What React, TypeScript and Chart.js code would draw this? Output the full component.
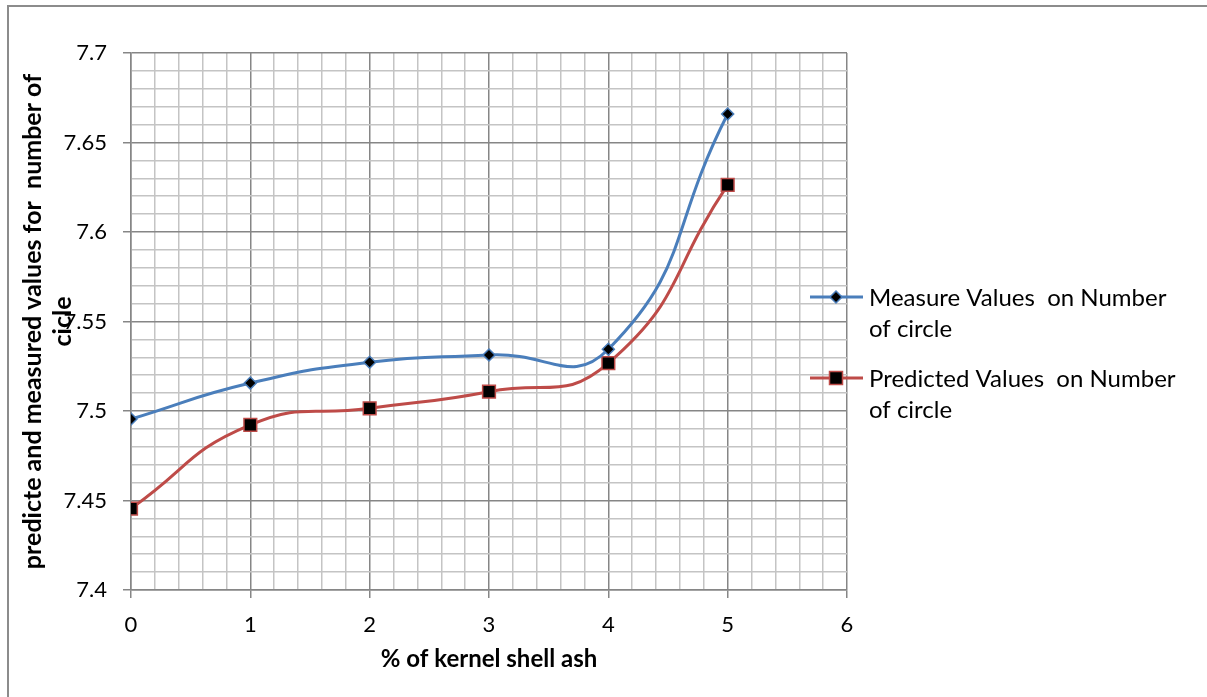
import React, { useEffect, useRef } from 'react';
import { Chart, registerables } from 'chart.js';

Chart.register(...registerables);

const xValues = [0, 1, 2, 3, 4, 5];
const measuredValues = [7.4955, 7.5156, 7.5272, 7.5313, 7.5345, 7.6659];
const predictedValues = [7.4455, 7.4922, 7.5015, 7.5108, 7.5267, 7.6263];
const seriesNames = ['Measure Values  on Number of circle', 'Predicted Values  on Number of circle'];
const legendLines = [
  ['Measure Values  on Number', 'of circle'],
  ['Predicted Values  on Number', 'of circle'],
];
const xTitle = '% of kernel shell ash';
const yTitle = ['predicte and measured values for  number of', 'cicle'];

const BLUE = '#4a7ebb';
const RED = '#be4b48';
const MAJOR = '#868686';
const MINOR = '#c4c4c4';
const FONT = 'Lato, "Open Sans", sans-serif';

const isMajorY = (v: number) => Math.round(v * 100) % 5 === 0;
const isMajorX = (v: number) => Math.abs(v - Math.round(v)) < 1e-6;

const decorPlugin = {
  id: 'decor',
  beforeDraw(chart: any) {
    const ctx = chart.ctx;
    ctx.save();
    ctx.strokeStyle = '#8c8c8c';
    ctx.lineWidth = 2;
    ctx.beginPath();
    ctx.moveTo(8, chart.height);
    ctx.lineTo(8, 6);
    ctx.lineTo(chart.width, 6);
    ctx.stroke();
    ctx.restore();
  },
  afterDraw(chart: any) {
    const ctx = chart.ctx;
    ctx.save();
    const entries = [
      { color: BLUE, y: 297, lines: legendLines[0], style: 'diamond' },
      { color: RED, y: 378, lines: legendLines[1], style: 'square' },
    ];
    entries.forEach((e) => {
      ctx.strokeStyle = e.color;
      ctx.lineWidth = 3;
      ctx.beginPath();
      ctx.moveTo(810, e.y);
      ctx.lineTo(863, e.y);
      ctx.stroke();
      const cx = 836;
      ctx.fillStyle = '#000';
      ctx.lineWidth = 1.5;
      ctx.beginPath();
      if (e.style === 'diamond') {
        const r = 6;
        ctx.moveTo(cx - r, e.y);
        ctx.lineTo(cx, e.y - r);
        ctx.lineTo(cx + r, e.y);
        ctx.lineTo(cx, e.y + r);
        ctx.closePath();
      } else {
        const s = 6.5;
        ctx.rect(cx - s, e.y - s, 2 * s, 2 * s);
      }
      ctx.fill();
      ctx.stroke();
      ctx.fillStyle = '#000';
      ctx.font = `24px ${FONT}`;
      ctx.textBaseline = 'middle';
      ctx.textAlign = 'left';
      e.lines.forEach((t: string, i: number) => {
        ctx.fillText(t, 869, e.y + 1 + i * 31);
      });
    });
    ctx.restore();
  },
};

export default function App() {
  const ref = useRef<HTMLCanvasElement | null>(null);
  useEffect(() => {
    if (!ref.current) return;
    const chart = new Chart(ref.current, {
      type: 'line',
      data: {
        datasets: [
          {
            label: seriesNames[0],
            data: xValues.map((x, i) => ({ x, y: measuredValues[i] })),
            borderColor: BLUE,
            borderWidth: 3,
            tension: 0.5,
            pointStyle: 'rectRot',
            pointRadius: 6,
            pointBackgroundColor: '#000',
            pointBorderColor: BLUE,
            pointBorderWidth: 1.5,
          },
          {
            label: seriesNames[1],
            data: xValues.map((x, i) => ({ x, y: predictedValues[i] })),
            borderColor: RED,
            borderWidth: 3,
            tension: 0.5,
            pointStyle: 'rect',
            pointRadius: 9,
            pointBackgroundColor: '#000',
            pointBorderColor: RED,
            pointBorderWidth: 1.5,
          },
        ],
      },
      options: {
        responsive: false,
        animation: false,
        layout: { padding: { left: 0, top: 53, right: 360, bottom: 0 } },
        plugins: {
          legend: { display: false },
          tooltip: { enabled: false },
        },
        scales: {
          x: {
            type: 'linear',
            min: 0,
            max: 6,
            afterFit: (s: any) => {
              s.height = 107;
            },
            ticks: {
              stepSize: 0.2,
              autoSkip: false,
              maxRotation: 0,
              padding: 14,
              color: '#000',
              font: { family: FONT, size: 22 },
              callback: (v: any) => (isMajorX(Number(v)) ? String(Math.round(Number(v))) : ''),
            },
            grid: {
              color: (c: any) => (isMajorX(c.tick.value) ? MAJOR : MINOR),
              lineWidth: 1.5,
              tickLength: 8,
              tickColor: (c: any) => (isMajorX(c.tick.value) ? MAJOR : 'rgba(0,0,0,0)'),
            },
            border: { color: MAJOR, width: 1.5 },
            title: {
              display: true,
              text: xTitle,
              color: '#000',
              font: { family: FONT, size: 24, weight: 'bold', lineHeight: 1.2 },
              padding: { top: 0, bottom: 23 },
            },
          },
          y: {
            type: 'linear',
            min: 7.4,
            max: 7.7,
            afterFit: (s: any) => {
              s.width = 131;
            },
            ticks: {
              stepSize: 0.01,
              autoSkip: false,
              padding: 16,
              color: '#000',
              font: { family: FONT, size: 22 },
              callback: (v: any) => {
                const n = Number(v);
                if (!isMajorY(n)) return '';
                return String(Math.round(n * 100) / 100);
              },
            },
            grid: {
              color: (c: any) => (isMajorY(c.tick.value) ? MAJOR : MINOR),
              lineWidth: 1.5,
              tickLength: 8,
              tickColor: (c: any) => (isMajorY(c.tick.value) ? MAJOR : 'rgba(0,0,0,0)'),
            },
            border: { color: MAJOR, width: 1.5 },
            title: {
              display: true,
              text: yTitle,
              color: '#000',
              font: { family: FONT, size: 25, weight: 'bold', lineHeight: 1.2 },
              padding: { top: 18, bottom: 0 },
            },
          },
        },
      },
      plugins: [decorPlugin],
    });
    return () => chart.destroy();
  }, []);
  return (
    <div style={{ position: 'fixed', left: 0, top: 0, width: 1207, height: 697, background: '#fff' }}>
      <canvas ref={ref} width={1207} height={697} style={{ width: 1207, height: 697, display: 'block' }} />
    </div>
  );
}
